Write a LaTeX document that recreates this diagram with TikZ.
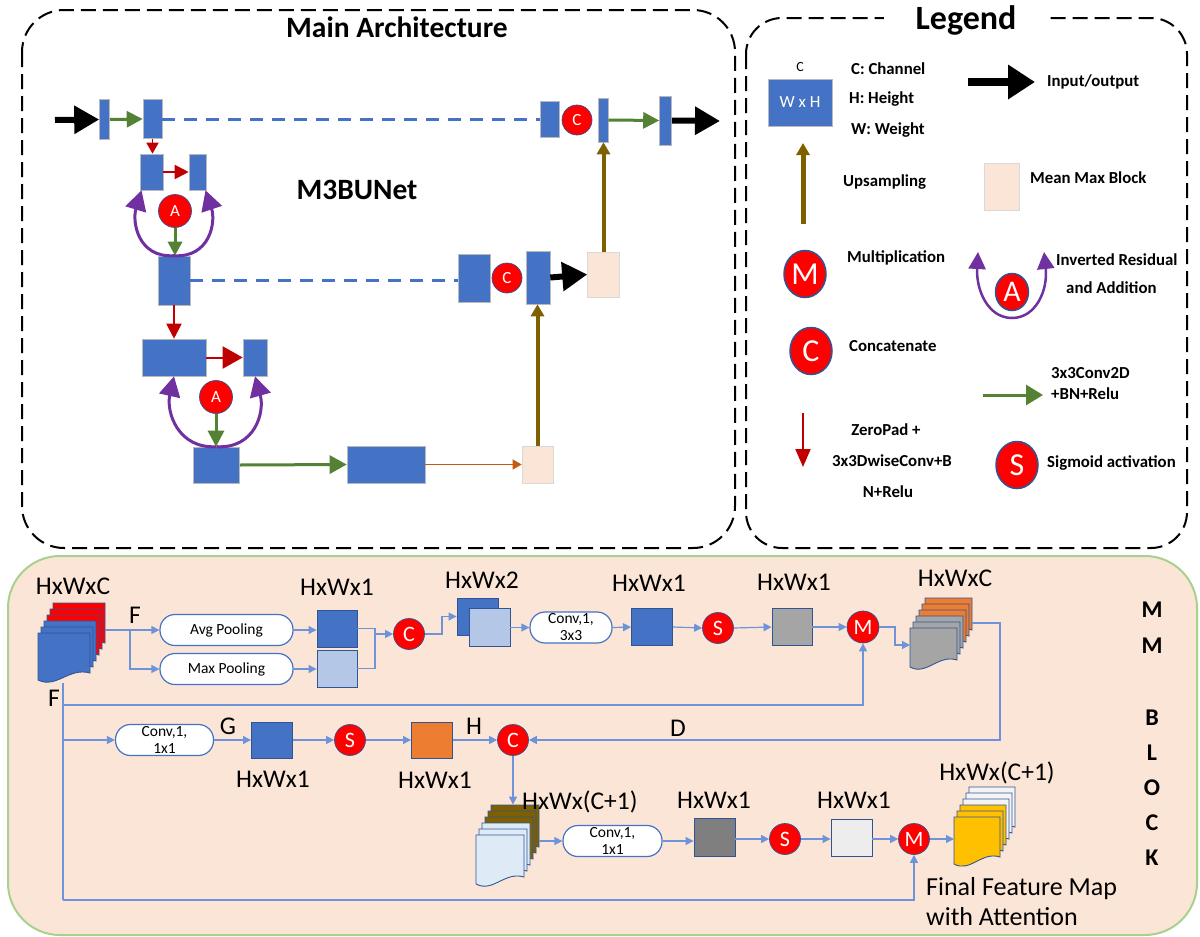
\documentclass[tikz,border=0pt]{standalone}
\usepackage{fontspec}
\setmainfont{Carlito}
\usetikzlibrary{arrows.meta,positioning,calc,shapes.geometric}

\definecolor{blkblue}{HTML}{4472C4}
\definecolor{edgeblue}{HTML}{2F5597}
\definecolor{lineblue}{HTML}{6F93D8}
\definecolor{paleblue}{HTML}{B4C7E7}
\definecolor{iceblue}{HTML}{DEEBF7}
\definecolor{peach}{HTML}{FBE5D6}
\definecolor{mmgreen}{HTML}{A9D18E}
\definecolor{zpred}{HTML}{C00000}
\definecolor{cvgreen}{HTML}{548235}
\definecolor{irpurple}{HTML}{7030A0}
\definecolor{upbrown}{HTML}{7F6000}
\definecolor{thinorange}{HTML}{C55A11}
\definecolor{opred}{HTML}{FF0000}
\definecolor{oporange}{HTML}{ED7D31}
\definecolor{sqmid}{HTML}{A5A5A5}
\definecolor{sqdark}{HTML}{7F7F7F}
\definecolor{sqlight}{HTML}{EDEDED}
\definecolor{sheetwhite}{HTML}{F4F4F4}
\definecolor{gold}{HTML}{FFC000}

% stacked feature maps: name, x, y of front sheet, width, height, back fill, front fill
\newcommand{\fmap}[7]{%
  \foreach \i in {5,4,...,0}{%
    \pgfmathsetmacro{\lx}{#2+3*\i}%
    \pgfmathsetmacro{\ly}{#3-6*\i}%
    \ifnum\i>2 \def\lfill{#6}\else\def\lfill{#7}\fi
    \draw[fmlayer, fill=\lfill] (\lx,\ly) -- ({\lx+#4},\ly) -- ({\lx+#4},{\ly+#5-10})
      .. controls ({\lx+0.6*#4},{\ly+#5-16}) and ({\lx+0.35*#4},{\ly+#5+6}) .. (\lx,{\ly+#5-3}) -- cycle;
  }%
  \node[inner sep=0pt, minimum width={#4+15}, minimum height={#5+30}, anchor=south west] (#1) at (#2,{#3+#5}) {};%
}

\begin{document}
\begin{tikzpicture}[x=1pt, y=-1pt, font=\fontsize{16}{19}\selectfont,
  dashframe/.style={draw=black, line width=2pt, dash pattern=on 15pt off 7pt, rounded corners=42pt},
  headline/.style={fill=white, inner xsep=28pt, inner ysep=2pt, font=\bfseries\fontsize{29.5}{33}\selectfont},
  blk/.style={draw=gray!55, line width=0.6pt, fill=blkblue, inner sep=0pt},
  mmb/.style={draw=gray!30, line width=0.6pt, fill=peach, inner sep=0pt},
  opc/.style={circle, fill=opred, draw=edgeblue, line width=0.7pt, text=white, inner sep=0pt, minimum size=30pt, font=\fontsize{17}{17}\selectfont},
  mop/.style={opc, minimum size=31pt, font=\fontsize{22}{22}\selectfont},
  lgop/.style={ellipse, fill=opred, draw=edgeblue, line width=1.5pt, text=white, inner sep=0pt, minimum width=42pt, minimum height=47pt, font=\fontsize{32}{32}\selectfont},
  ioarr/.style={line width=6pt, -{Triangle[length=25pt, width=27pt]}},
  cvarr/.style={cvgreen, line width=3pt, -{Triangle[length=16pt, width=16pt]}},
  zparr/.style={zpred, line width=2pt, -{Triangle[length=14pt, width=14pt]}},
  uparr/.style={upbrown, line width=4pt, -{Triangle[length=12pt, width=13pt]}},
  resarr/.style={irpurple, line width=3pt, -{Triangle[length=20pt, width=21pt]}},
  skipline/.style={blkblue, line width=3pt, dash pattern=on 13pt off 9pt},
  lgtext/.style={anchor=west, inner sep=0pt, font=\bfseries\fontsize{16.8}{19}\selectfont},
  mapsq/.style={draw=edgeblue, line width=0.9pt, inner sep=0pt, minimum width=41pt, minimum height=37pt},
  pill/.style={draw=blkblue, line width=1.2pt, fill=white, rounded corners=15pt, inner sep=0pt, minimum height=31pt, align=center, font=\fontsize{15.5}{17}\selectfont},
  bus/.style={lineblue, line width=1.2pt},
  flow/.style={bus, -{Triangle[length=8pt, width=8pt]}},
  dimlbl/.style={inner sep=0pt, font=\fontsize{25.5}{29}\selectfont},
  fmlayer/.style={draw=edgeblue, line width=0.9pt}
]
\fill[white] (0,0) rectangle (1200,937);
\useasboundingbox (0,0) rectangle (1200,937);

% frames
\draw[dashframe] (22,10) rectangle (735,548);
\node[headline] (maintitle) at (397,27) {Main Architecture};
\draw[dashframe, rounded corners=36pt] (746,18) rectangle (1187,548);
\node[headline, inner xsep=32pt, font=\bfseries\fontsize{34}{38}\selectfont] (lgtitle) at (966,20) {Legend};
\draw[draw=mmgreen, fill=peach, line width=2pt, rounded corners=52pt] (8,556) rectangle (1197,935);

% main architecture
\node[font=\bfseries\fontsize{29.5}{33}\selectfont] (netname) at (357,190) {M3BUNet};
\coordinate (netin) at (55,120);
\coordinate (netout) at (720,121);
\node[blk, minimum width=10pt, minimum height=40pt] (in1) at (104.5,119.5) {};
\node[blk, minimum width=19pt, minimum height=39pt] (enc0) at (152.5,119) {};
\node[blk, minimum width=23pt, minimum height=36pt] (e1a) at (151.5,172) {};
\node[blk, minimum width=17pt, minimum height=36pt] (e1b) at (197.5,172) {};
\node[opc, minimum size=33pt] (addA) at (175,211) {A};
\node[blk, minimum width=32pt, minimum height=49pt] (e2) at (174,280.5) {};
\node[blk, minimum width=64pt, minimum height=37pt] (e3a) at (174,357.5) {};
\node[blk, minimum width=24pt, minimum height=37pt] (e3b) at (255,357.5) {};
\node[opc, minimum size=33pt] (addB) at (216,397) {A};
\node[blk, minimum width=46pt, minimum height=36pt] (e4) at (216.5,465) {};
\node[blk, minimum width=78pt, minimum height=37pt] (e5) at (386,464.5) {};
\node[mmb, minimum width=31pt, minimum height=37pt] (pk2) at (537.5,464.5) {};
\node[blk, minimum width=32pt, minimum height=48pt] (d1) at (474,278) {};
\node[opc] (catB) at (507,278) {C};
\node[blk, minimum width=24pt, minimum height=53pt] (d2) at (538,277.5) {};
\node[mmb, minimum width=32pt, minimum height=45pt] (pk1) at (603.5,274.5) {};
\node[blk, minimum width=19pt, minimum height=36pt] (dec0a) at (549.5,119) {};
\node[opc] (catA) at (577,120) {C};
\node[blk, minimum width=10pt, minimum height=44pt] (dec0b) at (603,120) {};
\node[blk, minimum width=12pt, minimum height=49pt] (out1) at (665.5,120.5) {};

\draw[ioarr] (netin) -- (in1.west);
\draw[cvarr] (in1.east) -- (enc0.west);
\draw[skipline] (enc0.east) -- (dec0a.west);
\draw[zparr, line width=1.5pt, -{Triangle[length=11pt, width=12pt]}] (enc0.south) -- (enc0.south |- e1a.north);
\draw[zparr] (e1a.east) -- (e1b.west);
\draw[resarr] (e2.north) .. controls (138,258) and (132,222) .. ($(e1a.south)+(-10,0)$);
\draw[resarr] (e2.north) .. controls (210,258) and (216,222) .. ($(e1b.south)+(8,0)$);
\draw[cvarr, -{Triangle[length=14pt, width=14pt]}] (addA.south) -- (addA.south |- e2.north);
\draw[skipline] (e2.east) -- (e2.east -| d1.west);
\draw[zparr, -{Triangle[length=15pt, width=15pt]}] (e2.south) -- (e3a.north);
\draw[zparr, -{Triangle[length=20pt, width=22pt]}] (e3a.east) -- (e3b.west);
\draw[resarr] (e4.north) .. controls (178,449) and (166,412) .. (e3a.south);
\draw[resarr] (e4.north) .. controls (255,449) and (265,412) .. (e3b.south);
\draw[cvarr] (addB.south) -- (addB.south |- e4.north);
\draw[cvarr, -{Triangle[length=17pt, width=18pt]}] (e4.east) -- (e5.west);
\draw[thinorange, line width=1pt, -{Triangle[length=9pt, width=10pt]}] (e5.east) -- (pk2.west);
\draw[uparr] (pk2.north) -- (pk2.north |- d2.south);
\draw[ioarr, -{Triangle[length=25pt, width=28pt]}] (d2.east) -- (pk1.west);
\draw[uparr] (pk1.north) -- (pk1.north |- dec0b.south);
\draw[cvarr] (dec0b.east) -- (out1.west);
\draw[ioarr] (out1.east) -- (netout);

% legend
\node[font=\fontsize{14}{14}\selectfont] (lgc) at (800,67) {C};
\node[blk, minimum width=64pt, minimum height=47pt, text=white, font=\fontsize{17}{17}\selectfont] (lgblk) at (800,102.5) {W x H};
\node[lgtext] (lgch) at (851,69) {C: Channel};
\node[lgtext] (lght) at (849,99) {H: Height};
\node[lgtext] (lgwt) at (851,130) {W: Weight};
\coordinate (lgio0) at (968,82);
\coordinate (lgio1) at (1035,82);
\draw[line width=8pt, -{Triangle[length=27pt, width=33pt]}] (lgio0) -- (lgio1);
\node[lgtext] (lgiot) at (1047,82) {Input/output};
\coordinate (lgup0) at (803,224);
\coordinate (lgup1) at (803,143);
\draw[uparr, line width=5pt] (lgup0) -- (lgup1);
\node[lgtext] (lgupt) at (843,182) {Upsampling};
\node[mmb, minimum width=35pt, minimum height=47pt] (lgmm) at (1001.5,186.5) {};
\node[lgtext] (lgmmt) at (1030,178) {Mean Max Block};
\node[lgop] (lgm) at (805,274) {M};
\node[lgtext] (lgmt) at (847,258) {Multiplication};
\node[opc, ellipse, minimum width=33pt, minimum height=37pt, line width=1.5pt, font=\fontsize{30}{30}\selectfont] (lga) at (1012,292) {A};
\coordinate (lgbase) at (1012,318);
\coordinate (lgl) at (978,252);
\coordinate (lgr) at (1044,252);
\draw[resarr, line width=2.5pt, -{Triangle[length=17pt, width=17pt]}] (lgbase) .. controls (988,318) and (976,290) .. (lgl);
\draw[resarr, line width=2.5pt, -{Triangle[length=17pt, width=17pt]}] (lgbase) .. controls (1036,318) and (1048,290) .. (lgr);
\node[lgtext] (lgat1) at (1056,260) {Inverted Residual};
\node[lgtext] (lgat2) at (1066,288) {and Addition};
\node[lgop] (lgcat) at (811,351) {C};
\node[lgtext] (lgcatt) at (849,346) {Concatenate};
\coordinate (lgcv0) at (983,395);
\coordinate (lgcv1) at (1043,395);
\draw[cvarr, -{Triangle[length=17pt, width=20pt]}] (lgcv0) -- (lgcv1);
\node[lgtext] (lgcv1t) at (1051,373) {3x3Conv2D};
\node[lgtext] (lgcv2t) at (1051,394) {+BN+Relu};
\coordinate (lgzp0) at (803,413);
\coordinate (lgzp1) at (803,467);
\draw[zparr, -{Triangle[length=18pt, width=15pt]}] (lgzp0) -- (lgzp1);
\node[lgtext, anchor=center] (lgzp1t) at (886,430) {ZeroPad +};
\node[lgtext, anchor=center] (lgzp2t) at (892,461) {3x3DwiseConv+B};
\node[lgtext, anchor=center] (lgzp3t) at (888,492) {N+Relu};
\node[lgop] (lgs) at (1017,465) {S};
\node[lgtext] (lgst) at (1047,463) {Sigmoid activation};

% mean max block, first row
\fmap{fin}{38}{633}{52}{50}{opred}{blkblue}
\node[dimlbl] (finlbl) at (73,586) {HxWxC};
\node[dimlbl] (flbl1) at (135,615) {F};
\node[dimlbl] (flbl2) at (54,698) {F};
\coordinate (fsplit) at (130,630);
\coordinate (ftap) at (63,683);
\node[pill, minimum width=133pt] (avg) at (226.5,630) {Avg Pooling};
\node[pill, minimum width=133pt] (maxp) at (226.5,669) {Max Pooling};
\node[mapsq, fill=blkblue, minimum width=40pt] (avgmap) at (337,628.5) {};
\node[mapsq, fill=paleblue, minimum width=40pt] (maxmap) at (337,668.5) {};
\node[dimlbl] (avglbl) at (337,587) {HxWx1};
\coordinate (join1) at (375,634);
\node[mop] (cat1) at (409,634) {C};
\coordinate (bend1) at (442,634);
\node[mapsq, fill=blkblue] (pair1) at (477.5,616.5) {};
\node[mapsq, fill=paleblue, minimum height=38pt] (pair2) at (489.5,627.5) {};
\node[dimlbl] (pairlbl) at (482,580) {HxWx2};
\node[pill, minimum width=82pt] (conv3) at (571,627.5) {Conv,1,\\3x3};
\node[mapsq, fill=blkblue] (att1) at (652,627) {};
\node[dimlbl] (att1lbl) at (649,583) {HxWx1};
\node[mop] (sig1) at (718,628) {S};
\node[mapsq, fill=sqmid, minimum width=40pt] (att2) at (792,627) {};
\node[dimlbl] (att2lbl) at (794,582) {HxWx1};
\node[mop, minimum size=32pt] (mul1) at (863,627) {M};
\coordinate (bend2) at (895,627);
\coordinate (fmidin) at (910,645);
\fmap{fmid}{910}{628}{47}{42}{oporange}{sqmid}
\node[dimlbl] (fmidlbl) at (955,578) {HxWxC};

\draw[flow] (fin.east |- avg.west) -- (avg.west);
\draw[flow] (fsplit) |- (maxp.west);
\draw[flow] (avg.east) -- (avg.east -| avgmap.west);
\draw[flow] (maxp.east) -- (maxp.east -| maxmap.west);
\draw[bus] (avgmap.east) -| (join1);
\draw[bus] (maxmap.east) -| (join1);
\draw[flow] (join1) -- (cat1.west);
\draw[flow] (cat1.east) -- (bend1) |- (pair1.west);
\draw[flow] (pair2.east) -- (pair2.east -| conv3.west);
\draw[flow] (conv3.east) -- (att1.west);
\draw[flow] (att1.east) -- (sig1.west);
\draw[flow] (sig1.east) -- (att2.west);
\draw[flow] (att2.east) -- (mul1.west);
\draw[flow] (mul1.east) -- (bend2) |- (fmidin);

% second row
\draw[bus] (ftap) -- (ftap |- 0,900);
\draw[flow] (ftap |- 0,705) -| (mul1.south);
\node[pill, minimum width=98pt] (conv1a) at (164.5,740) {Conv,1,\\1x1};
\node[dimlbl] (glbl) at (228,726) {G};
\node[mapsq, fill=blkblue, minimum height=36pt] (gmap) at (272,740) {};
\node[dimlbl] (gmaplbl) at (273,779) {HxWx1};
\node[mop] (sig2) at (350,740) {S};
\node[mapsq, fill=oporange, minimum height=36pt] (hmap) at (432,740) {};
\node[dimlbl] (hmaplbl) at (435,780) {HxWx1};
\node[dimlbl] (hlbl) at (474,726) {H};
\node[mop] (cat2) at (513,740) {C};
\node[dimlbl] (dlbl) at (678,728) {D};
\coordinate (dturn) at (1000,740);
\draw[flow] (ftap |- conv1a.west) -- (conv1a.west);
\draw[flow] (conv1a.east) -- (gmap.west);
\draw[flow] (gmap.east) -- (sig2.west);
\draw[flow] (sig2.east) -- (hmap.west);
\draw[flow] (hmap.east) -- (cat2.west);
\draw[flow] (fmid.east |- 0,623) -| (dturn) -- (cat2.east);

% third row
\fmap{fcat}{476}{835}{48}{52}{upbrown}{iceblue}
\node[dimlbl, anchor=west] (fcatlbl) at (522,802) {HxWx(C+1)};
\node[pill, minimum width=99pt] (conv1b) at (612.5,841) {Conv,1,\\1x1};
\node[mapsq, fill=sqdark, minimum height=38pt] (wmap) at (714.5,837) {};
\node[dimlbl] (wmaplbl) at (714,800) {HxWx1};
\node[mop] (sig3) at (785,839) {S};
\node[mapsq, fill=sqlight] (amap) at (851.5,837.5) {};
\node[dimlbl] (amaplbl) at (854,800) {HxWx1};
\node[mop] (mul2) at (914,839) {M};
\fmap{fout}{954}{817}{46}{50}{sheetwhite}{gold}
\node[dimlbl] (foutlbl) at (997,773) {HxWx(C+1)};
\node[dimlbl, anchor=north west, align=left, font=\fontsize{26}{30}\selectfont] (finallbl) at (926,877) {Final Feature Map\\with Attention};
\draw[flow] (cat2.south) -- (cat2.south |- fcat.north);
\draw[flow] (fcat.east |- conv1b.west) -- (conv1b.west);
\draw[flow] (conv1b.east) -- (conv1b.east -| wmap.west);
\draw[flow] (wmap.east |- sig3.west) -- (sig3.west);
\draw[flow] (sig3.east) -- (sig3.east -| amap.west);
\draw[flow] (amap.east |- mul2.west) -- (mul2.west);
\draw[flow] (mul2.east) -- (mul2.east -| fout.west);
\draw[flow] (ftap |- 0,900) -| (mul2.south);

% block name
\foreach \ch/\yy in {M/610, M/646, B/718, L/753, O/788, C/823, K/858}
  \node[font=\bfseries\fontsize{24}{24}\selectfont] at (1152,\yy) {\ch};
\end{tikzpicture}
\end{document}
